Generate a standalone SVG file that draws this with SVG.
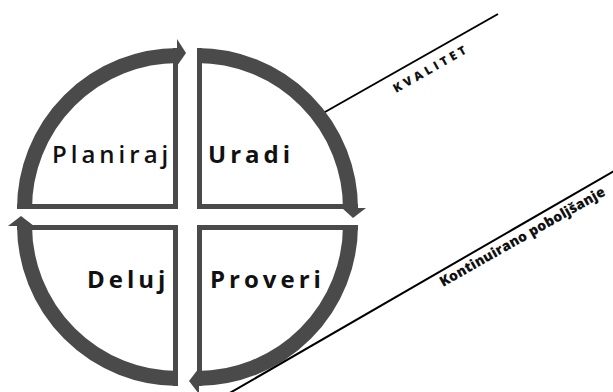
<svg xmlns="http://www.w3.org/2000/svg" width="613" height="392" viewBox="0 0 613 392">
<style>
.arc{fill:none;stroke:#4a4a4a;stroke-width:15}
.edge{fill:none;stroke:#4a4a4a;stroke-width:5;stroke-linejoin:miter}
.head{fill:#4a4a4a}
.lbl{font-family:"Open Sans","DejaVu Sans",sans-serif;font-size:24px;fill:#111;letter-spacing:4px}
.b{font-weight:700}
.s{font-weight:600}
.note{font-family:"Open Sans","DejaVu Sans",sans-serif;font-weight:800;fill:#111}
.ln{stroke:#000;stroke-width:2;fill:none}
</style>
<rect width="613" height="392" fill="#fff"/>
<g id="planiraj">
<path class="edge" d="M175.5,48 V206.5 H17"/>
<path class="arc" d="M24.5,209 A153.5,153.5 0 0 1 178,55.5"/>
<polygon class="head" points="177,39 186,53 177,66"/>
<text class="lbl s" x="52" y="163">Planiraj</text>
</g>
<g id="uradi">
<path class="edge" d="M199.5,48 V206.5 H358"/>
<path class="arc" d="M197,55.5 A153.5,153.5 0 0 1 350.5,209"/>
<polygon class="head" points="342,208 366,208 353,218"/>
<text class="lbl b" x="208" y="163">Uradi</text>
</g>
<g id="proveri">
<path class="edge" d="M199.5,386 V227.5 H358"/>
<path class="arc" d="M350.5,225 A153.5,153.5 0 0 1 197,378.5"/>
<polygon class="head" points="199,368 199,394 189,381"/>
<text class="lbl b" x="210" y="288">Proveri</text>
</g>
<g id="deluj">
<path class="edge" d="M17,227.5 H175.5 V386"/>
<path class="arc" d="M178,378.5 A153.5,153.5 0 0 1 24.5,225"/>
<polygon class="head" points="8,226 34,226 21,216"/>
<text class="lbl b" x="87" y="288">Deluj</text>
</g>
<g id="connectors">
<line class="ln" x1="325" y1="112" x2="498" y2="14"/>
<line class="ln" x1="228" y1="394" x2="614" y2="171"/>
</g>
<g id="kvalitet">
<text class="note" font-size="12" letter-spacing="3.5" transform="translate(396,93) rotate(-29.5)">KVALITET</text>
</g>
<g id="kontinuirano">
<text class="note" font-size="14" letter-spacing="0.2" transform="translate(443,287) rotate(-29.5)">Kontinuirano poboljšanje</text>
</g>
</svg>
